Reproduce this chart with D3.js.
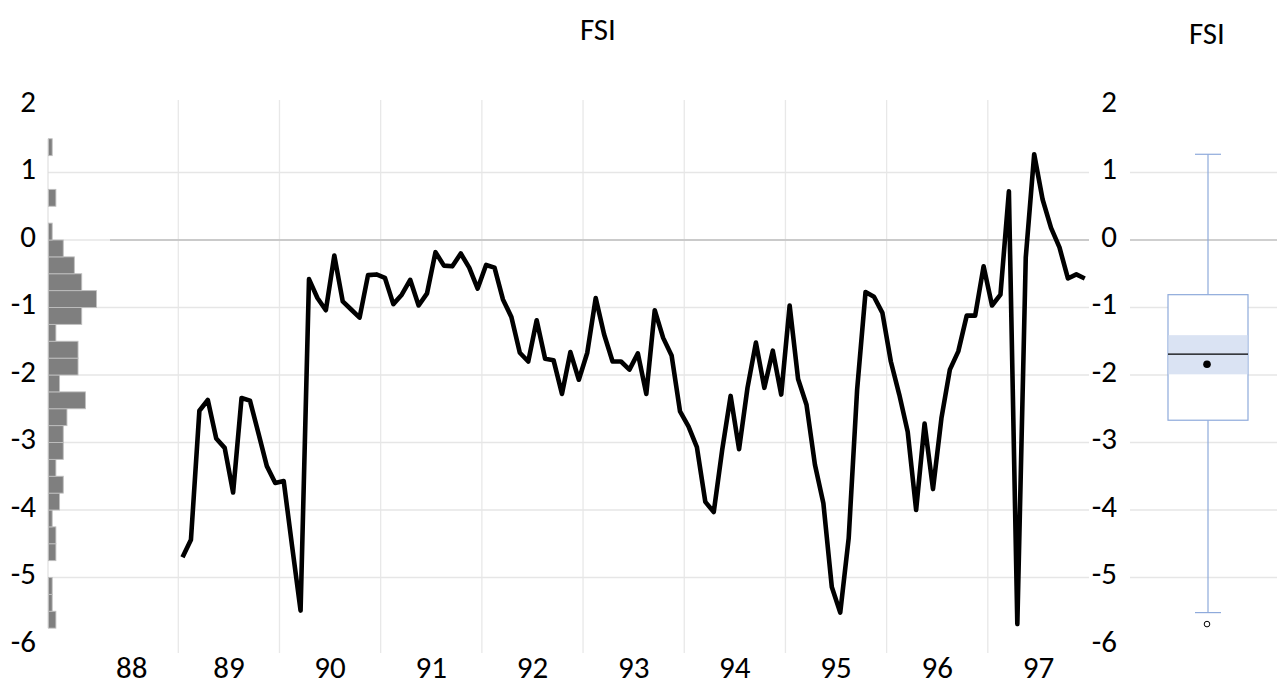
<!DOCTYPE html>
<html><head><meta charset="utf-8">
<script src="https://cdn.jsdelivr.net/npm/d3@7"></script>
<style>
body{margin:0;background:#fff}
text{font-family:Carlito,Calibri,'Open Sans',sans-serif;fill:#000}
</style>
</head><body>
<svg id="c" width="1277" height="685"></svg>
<script>
// ---------- data ----------
const chartTitle = "FSI";
const startYear = 1989;              // first monthly observation: Jan 1989
const fsi = [
 -4.70,-4.44,-2.53,-2.37,-2.94,-3.08,-3.74,-2.34,-2.38,-2.86,-3.35,-3.60,
 -3.57,-4.54,-5.49,-0.58,-0.86,-1.04,-0.23,-0.91,-1.03,-1.15,-0.52,-0.51,
 -0.56,-0.95,-0.81,-0.59,-0.97,-0.79,-0.18,-0.38,-0.39,-0.20,-0.41,-0.72,
 -0.37,-0.41,-0.88,-1.14,-1.67,-1.80,-1.19,-1.76,-1.78,-2.28,-1.66,-2.07,
 -1.67,-0.86,-1.40,-1.80,-1.80,-1.92,-1.68,-2.28,-1.04,-1.45,-1.71,-2.54,
 -2.76,-3.07,-3.88,-4.03,-3.11,-2.31,-3.10,-2.19,-1.52,-2.19,-1.64,-2.29,
 -0.97,-2.06,-2.44,-3.33,-3.90,-5.14,-5.52,-4.42,-2.22,-0.77,-0.84,-1.08,
 -1.80,-2.29,-2.84,-4.00,-2.72,-3.69,-2.64,-1.92,-1.65,-1.12,-1.12,-0.39,
 -0.97,-0.81, 0.72,-5.69,-0.26, 1.27, 0.60, 0.18,-0.11,-0.57,-0.51,-0.57
];
const yTicks = [2,1,0,-1,-2,-3,-4,-5,-6];
const yGridValues = [1,0,-1,-2,-3,-4,-5];
const yearLabels = ["88","89","90","91","92","93","94","95","96","97"];
const labelYears = [1988,1989,1990,1991,1992,1993,1994,1995,1996,1997];
const gridYears = [1989,1990,1991,1992,1993,1994,1995,1996,1997];
// histogram (bin lower edge, width 0.25)
const histBinStart = [-5.75,-5.5,-5.25,-5,-4.75,-4.5,-4.25,-4,-3.75,-3.5,-3.25,-3,-2.75,-2.5,-2.25,-2,-1.75,-1.5,-1.25,-1,-0.75,-0.5,-0.25,0,0.25,0.5,0.75,1,1.25];
const histCounts   = [2,1,1,0,2,2,1,3,4,2,4,4,5,10,3,8,8,2,9,13,9,7,4,1,0,2,0,0,1];
const histBinWidth = 0.25;
// box plot
const boxWhiskers = [-5.52, 1.27];
const boxQuartiles = [-2.67, -0.81];
const boxMedian = -1.69;
const boxMean = -1.84;
const boxMedianBand = [-1.99, -1.41];
const boxOutliers = [-5.69];

// ---------- scales ----------
const FS = 31;
const svg = d3.select("#c");
const y = d3.scaleLinear().domain([-6, 2]).range([645, 105]);
const x = d3.scaleLinear().domain([1989, 1998]).range([178.3, 1089]);
const plotLeft = 48, plotRight = 1089, lineAxisLeft = 110;
const hx = d3.scaleLinear().domain([0, 13]).range([48.5, 96.5]);

// ---------- main panel gridlines ----------
svg.append("g").selectAll("line").data(gridYears).join("line")
  .attr("x1", d => x(d)).attr("x2", d => x(d))
  .attr("y1", 100).attr("y2", 653)
  .attr("stroke", "#e8e8e8").attr("stroke-width", 1.3);

svg.append("g").selectAll("line").data(yGridValues).join("line")
  .attr("x1", plotLeft).attr("x2", plotRight)
  .attr("y1", d => y(d)).attr("y2", d => y(d))
  .attr("stroke", "#e6e6e6").attr("stroke-width", 1.3);

svg.append("line")
  .attr("x1", lineAxisLeft).attr("x2", plotRight)
  .attr("y1", y(0)).attr("y2", y(0))
  .attr("stroke", "#bfbfbf").attr("stroke-width", 1.3);

// ---------- histogram ----------
svg.append("line")
  .attr("x1", 48).attr("x2", 48)
  .attr("y1", y(histBinStart[histBinStart.length-1] + histBinWidth))
  .attr("y2", y(histBinStart[0]))
  .attr("stroke", "#d9d9d9").attr("stroke-width", 1);

svg.append("g").selectAll("rect").data(histBinStart.map((b,i)=>({b, c: histCounts[i]})).filter(d=>d.c>0)).join("rect")
  .attr("x", hx(0))
  .attr("y", d => y(d.b + histBinWidth))
  .attr("width", d => hx(d.c) - hx(0))
  .attr("height", d => y(d.b) - y(d.b + histBinWidth))
  .attr("fill", "#7f7f7f").attr("stroke", "#bfbfbf").attr("stroke-width", 0.9);

// ---------- line ----------
const series = fsi.map((v,i) => ({t: startYear + (i + 0.5)/12, v}));
svg.append("path").datum(series)
  .attr("fill", "none").attr("stroke", "#000").attr("stroke-width", 4.6)
  .attr("stroke-linejoin", "round")
  .attr("d", d3.line().x(d => x(d.t)).y(d => y(d.v)));

// ---------- axes labels ----------
svg.append("g").selectAll("text").data(yTicks).join("text")
  .attr("x", 36).attr("y", d => y(d) + 6.5)
  .attr("text-anchor", "end").attr("font-size", FS).text(d => d);

svg.append("g").selectAll("text").data(yearLabels).join("text")
  .attr("x", (d,i) => x(labelYears[i] + 0.5) + (i === 0 ? 4 : 0)).attr("y", 678)
  .attr("text-anchor", "middle").attr("font-size", FS).text(d => d);

svg.append("text").attr("x", 598).attr("y", 40)
  .attr("text-anchor", "middle").attr("font-size", FS).text(chartTitle);

// ---------- box plot panel ----------
svg.append("g").selectAll("line").data(yGridValues).join("line")
  .attr("x1", 1130).attr("x2", 1277)
  .attr("y1", d => y(d)).attr("y2", d => y(d))
  .attr("stroke", d => d === 0 ? "#bfbfbf" : "#e6e6e6").attr("stroke-width", 1.3);

svg.append("g").selectAll("text").data(yTicks).join("text")
  .attr("x", 1117).attr("y", d => y(d) + 6.5)
  .attr("text-anchor", "end").attr("font-size", FS).text(d => d);

svg.append("text").attr("x", 1207).attr("y", 44)
  .attr("text-anchor", "middle").attr("font-size", FS).text(chartTitle);

const bLeft = 1168, bRight = 1248, bCx = (bLeft + bRight)/2, capHalf = 13;
const boxColor = "#8eaadb";
const gb = svg.append("g");
gb.append("line").attr("x1", bCx).attr("x2", bCx).attr("y1", y(boxWhiskers[1])).attr("y2", y(boxQuartiles[1]))
  .attr("stroke", boxColor).attr("stroke-width", 1.2);
gb.append("line").attr("x1", bCx).attr("x2", bCx).attr("y1", y(boxQuartiles[0])).attr("y2", y(boxWhiskers[0]))
  .attr("stroke", boxColor).attr("stroke-width", 1.2);
gb.selectAll("line.cap").data(boxWhiskers).join("line").attr("class","cap")
  .attr("x1", bCx - capHalf).attr("x2", bCx + capHalf)
  .attr("y1", d => y(d)).attr("y2", d => y(d))
  .attr("stroke", boxColor).attr("stroke-width", 1.2);
gb.append("rect").attr("x", bLeft).attr("width", bRight - bLeft)
  .attr("y", y(boxQuartiles[1])).attr("height", y(boxQuartiles[0]) - y(boxQuartiles[1]))
  .attr("fill", "#fff").attr("stroke", boxColor).attr("stroke-width", 1.2);
gb.append("rect").attr("x", bLeft + 0.6).attr("width", bRight - bLeft - 1.2)
  .attr("y", y(boxMedianBand[1])).attr("height", y(boxMedianBand[0]) - y(boxMedianBand[1]))
  .attr("fill", "#dae3f3");
gb.append("line").attr("x1", bLeft).attr("x2", bRight)
  .attr("y1", y(boxMedian)).attr("y2", y(boxMedian))
  .attr("stroke", "#000").attr("stroke-width", 1.2);
gb.append("circle").attr("cx", bCx - 1).attr("cy", y(boxMean)).attr("r", 3.8).attr("fill", "#000");
gb.selectAll("circle.out").data(boxOutliers).join("circle").attr("class","out")
  .attr("cx", bCx - 1).attr("cy", d => y(d)).attr("r", 2.8)
  .attr("fill", "#fff").attr("stroke", "#000").attr("stroke-width", 1);
</script>
</body></html>
